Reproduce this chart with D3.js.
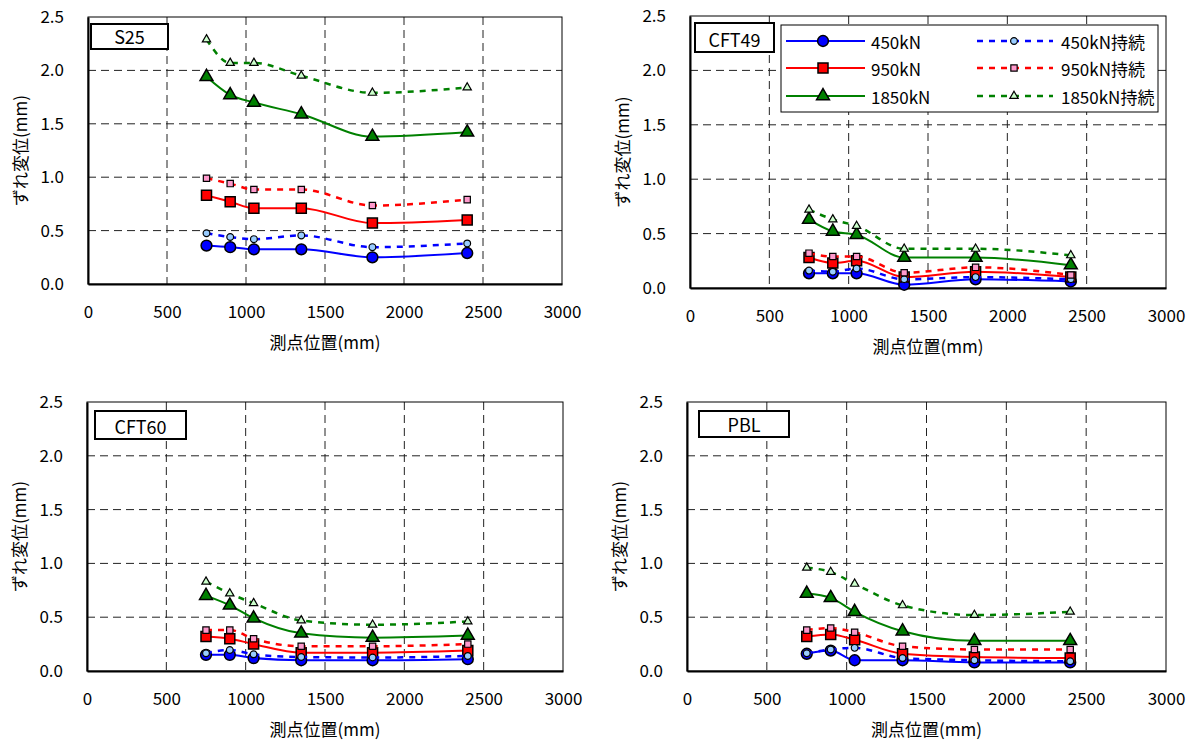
<!DOCTYPE html>
<html>
<head>
<meta charset="utf-8">
<script src="https://d3js.org/d3.v7.min.js"></script>
<style>
body { margin: 0; background: #fff; }
svg { font-family: "Noto Sans CJK JP", "Noto Sans", sans-serif; }
</style>
</head>
<body>
<svg width="1196" height="740"></svg>
<script>
// measuring points (mm)
var xPositions = [750, 900, 1050, 1350, 1800, 2400]
var xTicks = [0, 500, 1000, 1500, 2000, 2500, 3000]
var yTicks = [0, 0.5, 1.0, 1.5, 2.0, 2.5]
var seriesNames = ["450kN", "950kN", "1850kN", "450kN持続", "950kN持続", "1850kN持続"]
var panelNames = ["S25", "CFT49", "CFT60", "PBL"]
var xTitle = "測点位置(mm)"
var yTitle = "ずれ変位(mm)"

// rows follow seriesNames
var s25Values = [
	[0.36, 0.345, 0.325, 0.325, 0.25, 0.29],
	[0.83, 0.77, 0.71, 0.71, 0.57, 0.60],
	[1.94, 1.77, 1.70, 1.59, 1.38, 1.42],
	[0.475, 0.44, 0.42, 0.455, 0.345, 0.38],
	[0.99, 0.94, 0.885, 0.885, 0.735, 0.79],
	[2.29, 2.07, 2.07, 1.95, 1.79, 1.84]
]
var cft49Values = [
	[0.135, 0.135, 0.135, 0.03, 0.08, 0.06],
	[0.28, 0.23, 0.25, 0.10, 0.15, 0.10],
	[0.63, 0.52, 0.49, 0.28, 0.28, 0.21],
	[0.16, 0.15, 0.18, 0.08, 0.10, 0.08],
	[0.32, 0.29, 0.29, 0.14, 0.19, 0.12],
	[0.72, 0.63, 0.57, 0.36, 0.36, 0.30]
]
var cft60Values = [
	[0.15, 0.15, 0.12, 0.10, 0.10, 0.11],
	[0.32, 0.30, 0.25, 0.17, 0.17, 0.19],
	[0.70, 0.61, 0.49, 0.35, 0.31, 0.33],
	[0.165, 0.195, 0.155, 0.13, 0.125, 0.14],
	[0.38, 0.38, 0.30, 0.23, 0.23, 0.25],
	[0.83, 0.72, 0.63, 0.47, 0.43, 0.46]
]
var pblValues = [
	[0.16, 0.19, 0.10, 0.10, 0.08, 0.08],
	[0.32, 0.34, 0.29, 0.16, 0.13, 0.12],
	[0.72, 0.68, 0.55, 0.37, 0.28, 0.28],
	[0.165, 0.20, 0.215, 0.12, 0.10, 0.09],
	[0.38, 0.40, 0.36, 0.23, 0.20, 0.20],
	[0.96, 0.92, 0.81, 0.61, 0.52, 0.55]
]

// look of each series
var styles = [
	{line: "#0000ff", fill: "#0000ff", shape: d3.symbolCircle, size: 92, dash: null},
	{line: "#ff0000", fill: "#ff0000", shape: d3.symbolSquare, size: 100, dash: null},
	{line: "#008000", fill: "#008000", shape: d3.symbolTriangle, size: 72, dash: null},
	{line: "#0000ff", fill: "#99ccff", shape: d3.symbolCircle, size: 36, dash: "6,6"},
	{line: "#ff0000", fill: "#ff99cc", shape: d3.symbolSquare, size: 40, dash: "6,6"},
	{line: "#008000", fill: "#ccffcc", shape: d3.symbolTriangle, size: 30, dash: "6,6"}
]

// plot frames and name boxes
var frames = [
	{left: 88, top: 17, width: 474, height: 267, box: [91, 24, 77, 25]},
	{left: 690, top: 16, width: 476, height: 272, box: [695, 23, 79, 29]},
	{left: 87, top: 402, width: 476, height: 269, box: [95, 411, 91, 28]},
	{left: 687, top: 402, width: 479, height: 269, box: [699, 411, 90, 26]}
]

function drawPanel(svg, frame, name, values) {
	var xScale = d3.scaleLinear().domain([0, 3000]).range([frame.left, frame.left + frame.width])
	var yScale = d3.scaleLinear().domain([0, 2.5]).range([frame.top + frame.height, frame.top])
	var g = svg.append("g")

	// grid
	g.selectAll(".vg").data(xTicks.slice(1, -1)).enter().append("line")
	.attr("x1", d => xScale(d)).attr("x2", d => xScale(d))
	.attr("y1", frame.top).attr("y2", frame.top + frame.height)
	.attr("stroke", "#222").attr("stroke-width", 1).style("stroke-dasharray", "8,5")
	g.selectAll(".hg").data(yTicks.slice(1, -1)).enter().append("line")
	.attr("x1", frame.left).attr("x2", frame.left + frame.width)
	.attr("y1", d => yScale(d)).attr("y2", d => yScale(d))
	.attr("stroke", "#222").attr("stroke-width", 1).style("stroke-dasharray", "8,5")

	g.append("rect")
	.attr("x", frame.left).attr("y", frame.top)
	.attr("width", frame.width).attr("height", frame.height)
	.attr("fill", "none").attr("stroke", "#000").attr("stroke-width", 1)

	// axes
	var yAxis = d3.axisLeft(yScale).tickValues(yTicks).tickFormat(d3.format(".1f")).tickSize(0).tickPadding(24)
	var xAxis = d3.axisBottom(xScale).tickValues(xTicks).tickFormat(d3.format("d")).tickSize(0).tickPadding(22)
	var gy = g.append("g").attr("transform", "translate(" + frame.left + ",0)").call(yAxis)
	var gx = g.append("g").attr("transform", "translate(0," + (frame.top + frame.height) + ")").call(xAxis)
	g.selectAll(".domain").attr("stroke", "#000").attr("stroke-width", 2)
	g.selectAll(".tick text").attr("font-family", "Noto Sans CJK JP").attr("font-size", 17).attr("fill", "#000")
	gy.attr("font-family", null)
	gx.attr("font-family", null)

	g.append("text")
	.attr("x", frame.left + frame.width / 2).attr("y", frame.top + frame.height + 57)
	.attr("text-anchor", "middle").attr("dominant-baseline", "central")
	.attr("font-size", 17).text(xTitle)
	g.append("text")
	.attr("transform", "translate(" + (frame.left - 69) + "," + (frame.top + frame.height / 2) + ") rotate(-90)")
	.attr("text-anchor", "middle").attr("dominant-baseline", "central")
	.attr("font-size", 17).text(yTitle)

	// series
	var line = d3.line().x((d, i) => xScale(xPositions[i])).y(d => yScale(d)).curve(d3.curveMonotoneX)
	values.forEach(function(vals, s) {
		var st = styles[s]
		g.append("path").attr("d", line(vals))
		.attr("fill", "none").attr("stroke", st.line)
		.attr("stroke-width", st.dash ? 2.5 : 2)
		.style("stroke-dasharray", st.dash)
		g.selectAll(".m" + s).data(vals).enter().append("path")
		.attr("d", d3.symbol().type(st.shape).size(st.size))
		.attr("transform", (d, i) => "translate(" + xScale(xPositions[i]) + "," + yScale(d) + ")")
		.attr("fill", st.fill).attr("stroke", "#000").attr("stroke-width", st.dash ? 1.2 : 1.5)
	})

	// name box
	g.append("rect")
	.attr("x", frame.box[0]).attr("y", frame.box[1])
	.attr("width", frame.box[2]).attr("height", frame.box[3])
	.attr("fill", "#fff").attr("stroke", "#000").attr("stroke-width", 2)
	g.append("text")
	.attr("x", frame.box[0] + frame.box[2] / 2).attr("y", frame.box[1] + frame.box[3] - 5)
	.attr("text-anchor", "middle").attr("font-size", 18).text(name)
}

function drawLegend(svg) {
	var g = svg.append("g")
	g.append("rect").attr("x", 781).attr("y", 25).attr("width", 377).attr("height", 87)
	.attr("fill", "#fff").attr("stroke", "#000").attr("stroke-width", 1)
	var rowY = [41, 68, 96]
	var cols = [{x1: 786, x2: 865, m: 823, t: 871}, {x1: 977, x2: 1053, m: 1014, t: 1061}]
	seriesNames.forEach(function(name, s) {
		var st = styles[s]
		var c = cols[Math.floor(s / 3)]
		var y = rowY[s % 3]
		g.append("line").attr("x1", c.x1).attr("x2", c.x2).attr("y1", y).attr("y2", y)
		.attr("stroke", st.line).attr("stroke-width", st.dash ? 2.5 : 2)
		.style("stroke-dasharray", st.dash)
		g.append("path").attr("d", d3.symbol().type(st.shape).size(st.size))
		.attr("transform", "translate(" + c.m + "," + y + ")")
		.attr("fill", st.fill).attr("stroke", "#000").attr("stroke-width", st.dash ? 1.2 : 1.5)
		g.append("text").attr("x", c.t).attr("y", y).attr("dominant-baseline", "central")
		.attr("font-size", 17).text(name)
	})
}

function main() {
	var svg = d3.select("svg")
	var allValues = [s25Values, cft49Values, cft60Values, pblValues]
	frames.forEach(function(f, i) {
		drawPanel(svg, f, panelNames[i], allValues[i])
	})
	drawLegend(svg)
}

window.onload = function() {
	main()
}
</script>
</body>
</html>
